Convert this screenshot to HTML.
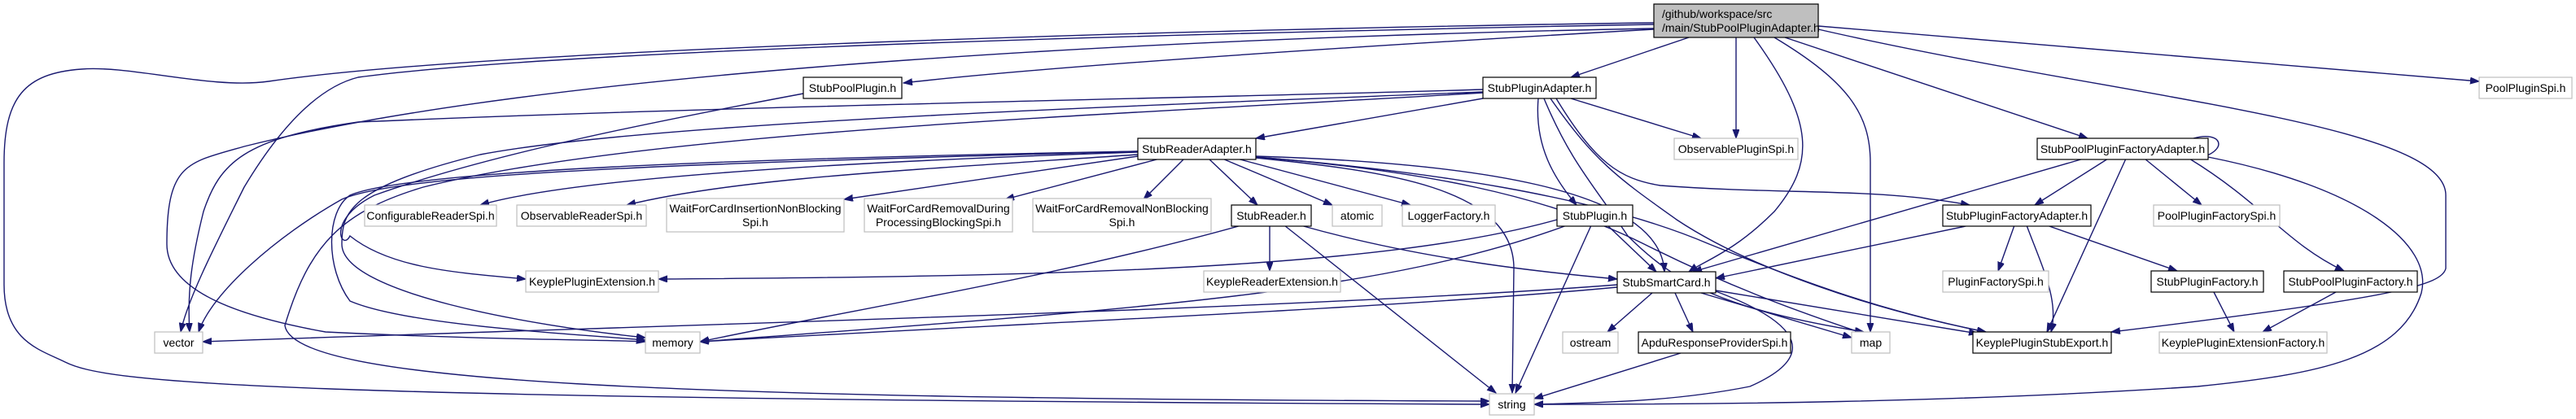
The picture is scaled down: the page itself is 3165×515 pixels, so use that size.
<!DOCTYPE html>
<html><head><meta charset="utf-8"><style>
html,body{margin:0;padding:0;background:#fff;}
svg{display:block;}
text{font-family:"Liberation Sans",sans-serif;font-size:14px;fill:#000;}
.e{fill:none;stroke:#191970;stroke-width:1.4;marker-end:url(#a);}
.n rect{fill:#fff;stroke:#000;stroke-width:1.2;}
.g rect{fill:#fff;stroke:#bfbfbf;stroke-width:1.2;}
</style></head><body>
<svg width="3165" height="515" viewBox="0 0 3165 515" xmlns="http://www.w3.org/2000/svg">
<defs><marker id="a" markerUnits="userSpaceOnUse" markerWidth="12" markerHeight="10" refX="11" refY="4" orient="auto"><path d="M0,0 L11,4 L0,8 z" fill="#191970" stroke="#191970"/></marker></defs>

<path class="e" d="M2032,28 C1500,35 600,60 330,100 C260,110 160,80 100,85 C30,90 5,120 5,200 L5,350 C5,420 50,430 80,445 C130,470 300,490 1830,497"/>
<path class="e" d="M2032,30 C1500,40 700,60 440,95 C380,110 330,180 300,230 C260,310 230,370 222,408"/>
<path class="e" d="M2032,35 C1500,45 700,80 300,180 C230,200 205,200 205,300 C205,360 300,390 400,408 C600,418 780,418 793,420"/>
<path class="e" d="M2032,36 C1700,55 1300,80 1110,102"/>
<path class="e" d="M2075,46 L1930,95"/>
<path class="e" d="M2133,46 L2133,170"/>
<path class="e" d="M2155,46 C2230,150 2230,200 2180,260 C2130,310 2095,320 2075,334"/>
<path class="e" d="M2180,46 C2270,100 2298,140 2298,200 L2298,408"/>
<path class="e" d="M2193,46 L2565,170"/>
<path class="e" d="M2234,32 L3046,100"/>
<path class="e" d="M2234,36 C2600,120 3005,150 3005,240 L3005,330 C3000,350 2950,365 2594,408"/>

<path class="e" d="M987,115 C800,150 600,190 460,240 C400,270 420,310 430,290 C480,330 560,335 646,343"/>

<path class="e" d="M1822,121 L1543,170"/>
<path class="e" d="M1822,110 C1500,120 900,130 440,150 C300,170 270,200 250,260 C235,320 230,360 233,408"/>
<path class="e" d="M1822,113 C1400,130 800,150 590,190 C430,230 420,260 420,300 C420,360 650,400 793,415"/>
<path class="e" d="M1822,114 C1400,140 800,160 520,230 C420,260 380,300 350,400 C360,470 800,490 1830,493"/>
<path class="e" d="M1930,121 L2090,170"/>
<path class="e" d="M1890,121 C1885,180 1910,220 1937,252"/>
<path class="e" d="M1897,121 C1930,200 1960,230 2000,290 C2060,350 2120,380 2290,408"/>
<path class="e" d="M1905,121 C1960,200 1990,220 2060,270 C2150,330 2300,380 2440,408"/>
<path class="e" d="M1912,121 C1960,200 1990,220 2040,228 C2200,240 2300,230 2420,252"/>

<path class="e" d="M1398,187 C1000,200 700,220 590,252"/>
<path class="e" d="M1398,190 C1100,210 900,220 770,252"/>
<path class="e" d="M1398,192 L1037,245"/>
<path class="e" d="M1425,195 L1235,245"/>
<path class="e" d="M1455,195 L1405,245"/>
<path class="e" d="M1485,195 L1545,252"/>
<path class="e" d="M1502,195 L1637,252"/>
<path class="e" d="M1520,195 L1733,252"/>
<path class="e" d="M1543,192 C1800,200 2040,230 2045,334"/>
<path class="e" d="M1543,194 C1700,210 1860,230 1860,330 L1858,483"/>
<path class="e" d="M1543,193 C1750,210 1900,240 2020,300 C2120,350 2200,380 2290,410"/>
<path class="e" d="M1543,193 C1750,210 1960,240 2100,300 C2200,340 2300,380 2440,408"/>
<path class="e" d="M1398,186 C900,200 500,210 420,245 C340,290 260,360 244,408"/>
<path class="e" d="M1398,186 C900,195 500,210 430,240 C400,260 400,330 430,370 C500,400 700,410 793,418"/>

<path class="e" d="M1560,277 L1560,333"/>
<path class="e" d="M1525,277 C1300,340 1050,380 860,420"/>
<path class="e" d="M1578,277 L1838,483"/>
<path class="e" d="M1598,277 C1750,320 1900,335 1987,343"/>

<path class="e" d="M1913,270 C1700,330 1300,340 809,343"/>
<path class="e" d="M1925,277 C1700,360 1400,380 860,420"/>
<path class="e" d="M1955,277 L1862,483"/>
<path class="e" d="M1975,277 L2035,334"/>

<path class="e" d="M1987,350 C1600,380 800,400 249,420"/>
<path class="e" d="M1987,353 C1700,380 1200,400 860,420"/>
<path class="e" d="M2030,360 L1975,408"/>
<path class="e" d="M2058,360 L2080,408"/>
<path class="e" d="M2090,360 L2275,415"/>
<path class="e" d="M2108,357 L2430,410"/>
<path class="e" d="M2108,358 C2220,400 2230,440 2150,475 C2050,495 1950,495 1885,497"/>
<path class="e" d="M2065,434 L1885,490"/>

<path class="e" d="M2695,170 C2730,160 2740,185 2700,195"/>
<path class="e" d="M2560,195 L2080,334"/>
<path class="e" d="M2590,195 L2500,252"/>
<path class="e" d="M2612,195 L2515,408"/>
<path class="e" d="M2635,195 L2705,252"/>
<path class="e" d="M2690,195 C2780,250 2810,300 2880,333"/>
<path class="e" d="M2713,193 C2900,230 2990,300 2975,360 C2950,440 2850,460 2700,475 C2400,495 2100,497 1885,497"/>
<path class="e" d="M2420,277 L2108,342"/>
<path class="e" d="M2475,277 L2455,333"/>
<path class="e" d="M2490,277 C2510,330 2530,370 2520,408"/>
<path class="e" d="M2515,277 L2675,333"/>
<path class="e" d="M2720,359 L2745,408"/>
<path class="e" d="M2870,359 L2780,408"/>

<g class="n"><rect x="2032" y="5" width="202" height="41" style="fill:#bfbfbf"/><text x="2042" y="22">/github/workspace/src</text><text x="2042" y="39">/main/StubPoolPluginAdapter.h</text></g>

<g class="n"><rect x="987" y="95" width="121" height="26"/><text x="1047.5" y="113" text-anchor="middle">StubPoolPlugin.h</text></g>
<g class="n"><rect x="1822" y="95" width="139" height="26"/><text x="1891.5" y="113" text-anchor="middle">StubPluginAdapter.h</text></g>
<g class="g"><rect x="3046" y="95" width="114" height="26"/><text x="3103" y="113" text-anchor="middle">PoolPluginSpi.h</text></g>

<g class="n"><rect x="1398" y="170" width="145" height="26"/><text x="1470.5" y="188" text-anchor="middle">StubReaderAdapter.h</text></g>
<g class="g"><rect x="2057" y="170" width="152" height="26"/><text x="2133" y="188" text-anchor="middle">ObservablePluginSpi.h</text></g>
<g class="n"><rect x="2503" y="170" width="210" height="26"/><text x="2608" y="188" text-anchor="middle">StubPoolPluginFactoryAdapter.h</text></g>

<g class="g"><rect x="448" y="252" width="162" height="26"/><text x="529" y="270" text-anchor="middle">ConfigurableReaderSpi.h</text></g>
<g class="g"><rect x="635" y="252" width="159" height="26"/><text x="714.5" y="270" text-anchor="middle">ObservableReaderSpi.h</text></g>
<g class="g"><rect x="819" y="244" width="218" height="41"/><text x="928" y="261" text-anchor="middle">WaitForCardInsertionNonBlocking</text><text x="928" y="278" text-anchor="middle">Spi.h</text></g>
<g class="g"><rect x="1062" y="244" width="182" height="41"/><text x="1153" y="261" text-anchor="middle">WaitForCardRemovalDuring</text><text x="1153" y="278" text-anchor="middle">ProcessingBlockingSpi.h</text></g>
<g class="g"><rect x="1269" y="244" width="219" height="41"/><text x="1378.5" y="261" text-anchor="middle">WaitForCardRemovalNonBlocking</text><text x="1378.5" y="278" text-anchor="middle">Spi.h</text></g>
<g class="n"><rect x="1513" y="252" width="98" height="26"/><text x="1562" y="270" text-anchor="middle">StubReader.h</text></g>
<g class="g"><rect x="1637" y="252" width="61" height="26"/><text x="1667.5" y="270" text-anchor="middle">atomic</text></g>
<g class="g"><rect x="1723" y="252" width="114" height="26"/><text x="1780" y="270" text-anchor="middle">LoggerFactory.h</text></g>
<g class="n"><rect x="1913" y="252" width="93" height="26"/><text x="1959.5" y="270" text-anchor="middle">StubPlugin.h</text></g>
<g class="n"><rect x="2387" y="252" width="182" height="26"/><text x="2478" y="270" text-anchor="middle">StubPluginFactoryAdapter.h</text></g>
<g class="g"><rect x="2646" y="252" width="155" height="26"/><text x="2723.5" y="270" text-anchor="middle">PoolPluginFactorySpi.h</text></g>

<g class="g"><rect x="646" y="333" width="163" height="26"/><text x="727.5" y="351" text-anchor="middle">KeyplePluginExtension.h</text></g>
<g class="g"><rect x="1479" y="333" width="168" height="26"/><text x="1563" y="351" text-anchor="middle">KeypleReaderExtension.h</text></g>
<g class="n"><rect x="1987" y="334" width="121" height="26"/><text x="2047.5" y="352" text-anchor="middle">StubSmartCard.h</text></g>
<g class="g"><rect x="2387" y="333" width="130" height="26"/><text x="2452" y="351" text-anchor="middle">PluginFactorySpi.h</text></g>
<g class="n"><rect x="2643" y="333" width="138" height="26"/><text x="2712" y="351" text-anchor="middle">StubPluginFactory.h</text></g>
<g class="n"><rect x="2806" y="333" width="164" height="26"/><text x="2888" y="351" text-anchor="middle">StubPoolPluginFactory.h</text></g>

<g class="g"><rect x="190" y="408" width="59" height="26"/><text x="219.5" y="426" text-anchor="middle">vector</text></g>
<g class="g"><rect x="793" y="408" width="67" height="26"/><text x="826.5" y="426" text-anchor="middle">memory</text></g>
<g class="g"><rect x="1920" y="408" width="68" height="26"/><text x="1954" y="426" text-anchor="middle">ostream</text></g>
<g class="n"><rect x="2013" y="408" width="187" height="26"/><text x="2106.5" y="426" text-anchor="middle">ApduResponseProviderSpi.h</text></g>
<g class="g"><rect x="2275" y="408" width="47" height="26"/><text x="2298.5" y="426" text-anchor="middle">map</text></g>
<g class="n"><rect x="2424" y="408" width="170" height="26"/><text x="2509" y="426" text-anchor="middle">KeyplePluginStubExport.h</text></g>
<g class="g"><rect x="2653" y="408" width="206" height="26"/><text x="2756" y="426" text-anchor="middle">KeyplePluginExtensionFactory.h</text></g>

<g class="g"><rect x="1830" y="484" width="55" height="26"/><text x="1857.5" y="502" text-anchor="middle">string</text></g>
</svg>
</body></html>
